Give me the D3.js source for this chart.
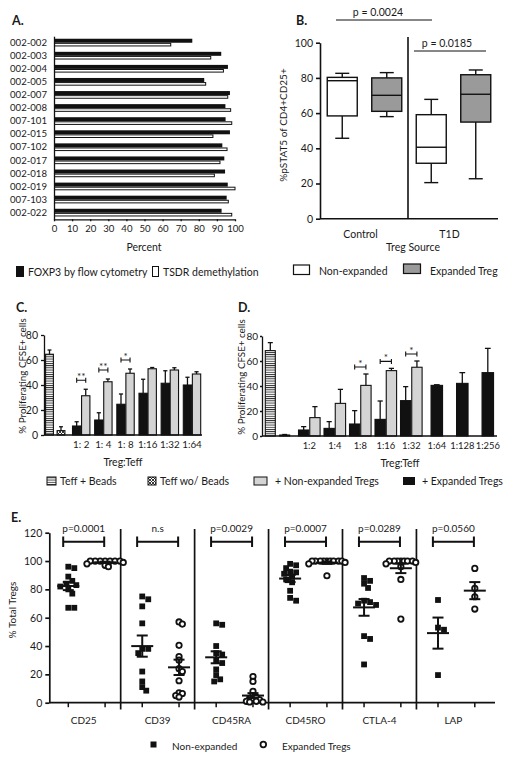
<!DOCTYPE html>
<html><head><meta charset="utf-8">
<script src="https://cdn.jsdelivr.net/npm/d3@7"></script>
<style>
body{margin:0;background:#fff}
svg{display:block}
text{font-family:Lato,"Open Sans",sans-serif;fill:#1a1a1a}
</style>
</head><body>
<svg id="chart" width="512" height="760"></svg>
<script>
// ---------- Panel A data ----------
const patients = ["002-002","002-003","002-004","002-005","002-007","002-008","007-101","002-015","007-102","002-017","002-018","002-019","007-103","002-022"];
const foxp3Flow = [76.4,92.4,96.1,83,97.2,94.7,94.8,97.2,93,94.1,94.5,96,95.4,92.6];
const tsdrDemeth = [64.5,86.6,93.6,83.8,96,97.6,98.2,87.8,95.6,91.7,88.6,100,96.3,98.2];
const percentTicks = [0,10,20,30,40,50,60,70,80,90,100];

// ---------- Panel B data ([min, q1, median, q3, max]) ----------
const bSources = ["Control","T1D"];
const bGroups = ["Non-expanded","Expanded Treg"];
const controlNonExp = [45.7,58.4,78.4,80.3,82.6];
const controlExp = [58,61,70.1,80,83];
const t1dNonExp = [20.5,31.5,40.6,59.1,67.8];
const t1dExp = [22.7,54.9,70.7,81.8,84.5];
const bTicks = [0,20,40,60,80,100];

// ---------- Panel C data ----------
const cControls = ["Teff + Beads","Teff wo/ Beads"];
const cControlMean = [64.6,3.5];
const cControlSem = [3.4,3.1];
const cRatios = ["1: 2","1: 4","1: 8","1:16","1:32","1:64"];
const cExpanded = [7.2,12,24.6,33.4,41.4,40];
const cExpandedSem = [3.4,5.8,8.2,11.2,10,6.2];
const cNonExp = [31.4,42.6,49.4,53,52,48.8];
const cNonExpSem = [5.2,2.2,3.4,1,1.8,1.8];
const cSig = ["**","**","*","","",""];

// ---------- Panel D data ----------
const dControlMean = [68.3,0.8];
const dControlSem = [6.4,0.4];
const dRatios = ["1:2","1:4","1:8","1:16","1:32","1:64","1:128","1:256"];
const dExpanded = [4.8,6.1,9.6,13.3,28.3,40.5,42.1,50.7];
const dExpandedSem = [2.7,5.4,10.7,14.7,11.2,0.5,8.6,19.4];
const dNonExp = [14.7,26.1,40.5,52.3,55,null,null,null];
const dNonExpSem = [8.8,11.2,9.1,1.8,5,null,null,null];
const dSig = ["","","*","*","*","","",""];
const cdTicks = [0,20,40,60,80];

// ---------- Panel E data ----------
const eMarkers = ["CD25","CD39","CD45RA","CD45RO","CTLA-4","LAP"];
const ePValues = ["p=0.0001","n.s","p=0.0029","p=0.0007","p=0.0289","p=0.0560"];
const eNonExpanded = [
  [96,95,89,86,84,83,82,80,77,67,67],
  [75,73,68,56,38,38,35,22,15,11,8.5],
  [56,55,40,35,34,30,28,23.5,19.5,16.5,15],
  [98,97,95,92.5,92,91,89,87,85,79,74,72],
  [88,86,84,81,72,71,70,69,47,45,27],
  [72.5,53,51.5,19.5]
];
const eExpanded = [
  [100,100,100,100,100,100,100,99,98,97,96],
  [57,55.5,40.5,32.5,30,24,22,15.5,7,6.5,5,4],
  [18.5,15,8,5,4,3,2,2,1,1,0.5,0.5],
  [100,100,100,100,100,100,100,100,100,99,98,89.6],
  [100,100,100,100,100,100,100,99,98,96,87,59],
  [94.8,80.7,74.8,66.1]
];
const eTicks = [0,20,40,60,80,100,120];

const svg = d3.select("#chart");
const FS = 10.5;

function label(g, x, y, t, opts={}) {
  const el = g.append("text").attr("x", x).attr("y", y).text(t)
    .attr("font-size", opts.size || FS)
    .attr("text-anchor", opts.anchor || "start")
    .attr("dominant-baseline", "central");
  if (opts.bold) el.attr("font-weight", "bold");
  if (opts.rotate) el.attr("transform", `rotate(-90,${x},${y})`);
  return el;
}
function styleAxis(g, sw, fs) {
  g.selectAll("path,line").attr("stroke", "#111").attr("stroke-width", sw);
  g.selectAll("text").attr("font-size", fs || FS).attr("fill", "#1a1a1a")
    .attr("font-family", "Lato, 'Open Sans', sans-serif");
}

// defs: patterns
const defs = svg.append("defs");
const pH = defs.append("pattern").attr("id","hstripe").attr("patternUnits","userSpaceOnUse").attr("width",4).attr("height",2.2);
pH.append("rect").attr("width",4).attr("height",2.2).attr("fill","#fff");
pH.append("rect").attr("width",4).attr("height",0.9).attr("fill","#222");
const pX = defs.append("pattern").attr("id","xhatch").attr("patternUnits","userSpaceOnUse").attr("width",3).attr("height",3);
pX.append("rect").attr("width",3).attr("height",3).attr("fill","#fff");
pX.append("path").attr("d","M0,0L3,3M3,0L0,3").attr("stroke","#222").attr("stroke-width",0.9);

// ================= PANEL A =================
{
  const g = svg.append("g");
  label(g, 12, 20, "A.", {bold:true, size:12.5});
  const x = d3.scaleLinear().domain([0,100]).range([54,235]);
  const y = d3.scaleBand().domain(patients).range([36.2,219.3]);
  const c = p => y(p) + y.bandwidth()/2;
  g.selectAll(".fb").data(patients).join("rect")
    .attr("x", x(0)).attr("y", p => c(p)-4)
    .attr("width", (p,i) => x(foxp3Flow[i]) - x(0)).attr("height", 4).attr("fill","#111");
  g.selectAll(".tb").data(patients).join("rect")
    .attr("x", x(0)+0.5).attr("y", p => c(p)+0.6)
    .attr("width", (p,i) => x(tsdrDemeth[i]) - x(0) - 0.5).attr("height", 2.6)
    .attr("fill","#fff").attr("stroke","#111").attr("stroke-width",1);
  const ya = g.append("g").attr("transform",`translate(${x(0)},0)`)
    .call(d3.axisLeft(y).tickSize(0).tickPadding(7));
  styleAxis(ya, 1.3, 9.6);
  const xa = g.append("g").attr("transform",`translate(0,219.3)`)
    .call(d3.axisBottom(x).tickValues(percentTicks).tickSize(2).tickPadding(4).tickSizeOuter(0));
  styleAxis(xa, 1.3, 9.6);
  label(g, 144, 247, "Percent", {anchor:"middle"});
  // legend
  g.append("rect").attr("x",16).attr("y",266).attr("width",8).attr("height",11).attr("fill","#111");
  label(g, 28, 272, "FOXP3 by flow cytometry");
  g.append("rect").attr("x",152.5).attr("y",266.5).attr("width",6).attr("height",10).attr("fill","#fff").attr("stroke","#111").attr("stroke-width",1);
  label(g, 163, 272, "TSDR demethylation");
}

// ================= PANEL B =================
{
  const g = svg.append("g");
  label(g, 296, 20, "B.", {bold:true, size:12.5});
  const y = d3.scaleLinear().domain([0,100]).range([218.7,42.7]);
  const x = d3.scaleBand().domain(bSources).range([320,498]);
  const xi = d3.scaleBand().domain(bGroups).range([0, x.bandwidth()]);
  const boxes = [
    {s:"Control", grp:"Non-expanded", v:controlNonExp},
    {s:"Control", grp:"Expanded Treg", v:controlExp},
    {s:"T1D", grp:"Non-expanded", v:t1dNonExp},
    {s:"T1D", grp:"Expanded Treg", v:t1dExp}
  ];
  const fill = {"Non-expanded":"#fff","Expanded Treg":"#9a9a9a"};
  const bw = 30;
  boxes.forEach(b => {
    const cx = x(b.s) + xi(b.grp) + xi.bandwidth()/2;
    const [mn,q1,md,q3,mx] = b.v;
    const bg = g.append("g").attr("stroke","#111").attr("stroke-width",1.4);
    bg.append("line").attr("x1",cx).attr("x2",cx).attr("y1",y(mx)).attr("y2",y(q3));
    bg.append("line").attr("x1",cx).attr("x2",cx).attr("y1",y(q1)).attr("y2",y(mn));
    bg.append("line").attr("x1",cx-7).attr("x2",cx+7).attr("y1",y(mx)).attr("y2",y(mx));
    bg.append("line").attr("x1",cx-7).attr("x2",cx+7).attr("y1",y(mn)).attr("y2",y(mn));
    bg.append("rect").attr("x",cx-bw/2).attr("y",y(q3)).attr("width",bw).attr("height",y(q1)-y(q3)).attr("fill",fill[b.grp]);
    bg.append("line").attr("x1",cx-bw/2).attr("x2",cx+bw/2).attr("y1",y(md)).attr("y2",y(md));
  });
  const ya = g.append("g").attr("transform","translate(320,0)")
    .call(d3.axisLeft(y).tickValues(bTicks).tickSize(4).tickPadding(3).tickSizeOuter(0));
  styleAxis(ya, 1.6);
  g.append("line").attr("x1",320).attr("x2",498).attr("y1",y(0)).attr("y2",y(0)).attr("stroke","#111").attr("stroke-width",1.6);
  g.append("line").attr("x1",x("T1D")-1).attr("x2",x("T1D")-1).attr("y1",37).attr("y2",y(0)).attr("stroke","#111").attr("stroke-width",1.6);
  bSources.forEach(s => label(g, x(s)+x.bandwidth()/2-4, 234, s, {anchor:"middle"}));
  label(g, 413, 247, "Treg Source", {anchor:"middle"});
  label(g, 283, 125, "%pSTAT5 of CD4+CD25+", {anchor:"middle", rotate:true, size:10});
  // p-values
  label(g, 378, 12, "p = 0.0024", {anchor:"middle"});
  g.append("line").attr("x1",336).attr("x2",432).attr("y1",20).attr("y2",20).attr("stroke","#111").attr("stroke-width",1.2);
  label(g, 447, 43, "p = 0.0185", {anchor:"middle"});
  g.append("line").attr("x1",414).attr("x2",486).attr("y1",51).attr("y2",51).attr("stroke","#111").attr("stroke-width",1.2);
  // legend
  g.append("rect").attr("x",293.5).attr("y",265).attr("width",16).attr("height",9.5).attr("fill","#fff").attr("stroke","#111").attr("stroke-width",1.2);
  label(g, 319, 270.5, "Non-expanded");
  g.append("rect").attr("x",403.5).attr("y",264).attr("width",17).attr("height",9.5).attr("fill","#9a9a9a").attr("stroke","#111").attr("stroke-width",1.2);
  label(g, 430, 270.5, "Expanded Treg");
}

// ---------- bar chart helper for C & D ----------
function barPanel(o) {
  const g = svg.append("g");
  const y = d3.scaleLinear().domain([0,80]).range([o.y0, o.y0-100]);
  const xc = d3.scalePoint().domain(cControls).range(o.ctrlRange);
  const xr = d3.scalePoint().domain(o.ratios).range(o.ratioRange);
  const xi = d3.scaleBand().domain(["exp","non"]).range([-o.half, o.half]).paddingInner(0.08);
  const bars = [];
  cControls.forEach((k,i) => bars.push({x: xc(k)-o.cw/2, w:o.cw, v:o.ctrlMean[i], e:o.ctrlSem[i], fill: i===0?"url(#hstripe)":"url(#xhatch)"}));
  o.ratios.forEach((r,i) => {
    const single = o.nonExp[i] == null;
    if (single) {
      bars.push({x: xr(r)-o.sw/2, w:o.sw, v:o.exp[i], e:o.expSem[i], fill:"#111"});
    } else {
      bars.push({x: xr(r)+xi("exp"), w:xi.bandwidth(), v:o.exp[i], e:o.expSem[i], fill:"#111"});
      bars.push({x: xr(r)+xi("non"), w:xi.bandwidth(), v:o.nonExp[i], e:o.nonSem[i], fill:"#d4d4d4"});
    }
  });
  bars.forEach(b => {
    const cx = b.x + b.w/2;
    g.append("line").attr("x1",cx).attr("x2",cx).attr("y1",y(b.v)).attr("y2",y(b.v+b.e)).attr("stroke","#111").attr("stroke-width",1.3);
    g.append("line").attr("x1",cx-b.w/4).attr("x2",cx+b.w/4).attr("y1",y(b.v+b.e)).attr("y2",y(b.v+b.e)).attr("stroke","#111").attr("stroke-width",1.3);
    g.append("rect").attr("x",b.x).attr("y",y(b.v)).attr("width",b.w).attr("height",y(0)-y(b.v))
      .attr("fill",b.fill).attr("stroke","#111").attr("stroke-width",1.1);
  });
  // significance brackets
  o.ratios.forEach((r,i) => {
    if (!o.sig[i]) return;
    const top = Math.max(o.exp[i]+o.expSem[i], o.nonExp[i]+o.nonSem[i]);
    const yy = y(top) - o.sigGap;
    const x1 = xr(r)+xi("exp")+xi.bandwidth()/2, x2 = xr(r)+xi("non")+xi.bandwidth()/2;
    g.append("path").attr("d",`M${x1},${yy-2.5}V${yy+2.5}M${x1},${yy}H${x2}M${x2},${yy-2.5}V${yy+2.5}`)
      .attr("stroke","#111").attr("stroke-width",1.1).attr("fill","none");
    label(g, (x1+x2)/2, yy-4, o.sig[i], {anchor:"middle", size:10});
  });
  const ya = g.append("g").attr("transform",`translate(${o.ax},0)`)
    .call(d3.axisLeft(y).tickValues(cdTicks).tickSize(o.tk).tickPadding(o.tp).tickSizeOuter(0));
  styleAxis(ya, 1.3, o.ytickSize);
  g.append("line").attr("x1",o.ax).attr("x2",o.axEnd).attr("y1",y(0)).attr("y2",y(0)).attr("stroke","#111").attr("stroke-width",1.3);
  o.ratios.forEach(r => label(g, xr(r), o.y0+9, r, {anchor:"middle", size:o.tickSize}));
  label(g, o.xTitle, o.y0+27, "Treg:Teff", {anchor:"middle"});
  label(g, o.ylabX, o.y0-59, "% Proliferating CFSE+ cells", {anchor:"middle", rotate:true, size:9.8});
  label(g, o.letterX, 307, o.letter, {bold:true, size:12.5});
}

// ================= PANEL C =================
barPanel({letter:"C.", letterX:16, ylabX:21.5, y0:435, ax:44, axEnd:202, tk:3, tp:3, ytickSize:10.5,
  ratios:cRatios, ctrlRange:[49.5,61], ratioRange:[81.2,192],
  half:8.7, cw:7.8, sw:8, ctrlMean:cControlMean, ctrlSem:cControlSem,
  exp:cExpanded, expSem:cExpandedSem, nonExp:cNonExp, nonSem:cNonExpSem, sig:cSig, sigGap:9, tickSize:9.8, xTitle:123});

// ================= PANEL D =================
barPanel({letter:"D.", letterX:238, ylabX:240.5, y0:436, ax:262, axEnd:497, tk:2, tp:2, ytickSize:10,
  ratios:dRatios, ctrlRange:[270.3,284.7], ratioRange:[309.3,487.8],
  half:10.8, cw:10, sw:11.5, ctrlMean:dControlMean, ctrlSem:dControlSem,
  exp:dExpanded, expSem:dExpandedSem, nonExp:dNonExp, nonSem:dNonExpSem, sig:dSig, sigGap:7, tickSize:9.4, xTitle:400});

// C / D legend
{
  const g = svg.append("g");
  const ly = 481;
  g.append("rect").attr("x",47).attr("y",ly-4).attr("width",9).attr("height",8).attr("fill","url(#hstripe)").attr("stroke","#111");
  label(g, 60, ly, "Teff + Beads");
  g.append("rect").attr("x",148).attr("y",ly-4).attr("width",8).attr("height",8).attr("fill","url(#xhatch)").attr("stroke","#111");
  label(g, 160, ly, "Teff  wo/ Beads");
  g.append("rect").attr("x",254).attr("y",ly-4).attr("width",13).attr("height",8).attr("fill","#d4d4d4").attr("stroke","#111");
  label(g, 275, ly, "+ Non-expanded Tregs");
  g.append("rect").attr("x",403).attr("y",ly-4).attr("width",12).attr("height",8).attr("fill","#111");
  label(g, 422, ly, "+ Expanded Tregs");
}

// ================= PANEL E =================
{
  const g = svg.append("g");
  label(g, 11, 517, "E.", {bold:true, size:12.5});
  const y = d3.scaleLinear().domain([0,120]).range([702.7,532.7]);
  const x = d3.scalePoint().domain(eMarkers).range([86.7,456.4]);
  const off = 18.4;

  function swarm(values, cx, d, step) {
    const placed = [], res = new Array(values.length);
    const order = values.map((v,i)=>i).sort((a,b)=>values[b]-values[a]);
    for (const i of order) {
      const py = y(values[i]);
      let k = 0, px;
      while (true) {
        const o = k===0 ? 0 : (k%2 ? 1 : -1) * Math.ceil(k/2) * step;
        px = cx + o;
        if (placed.every(p => Math.hypot(p[0]-px, p[1]-py) >= d)) break;
        k++;
      }
      placed.push([px,py]); res[i] = [px,py];
    }
    return res;
  }

  // axes
  const ya = g.append("g").attr("transform","translate(49.3,0)")
    .call(d3.axisLeft(y).tickValues(eTicks).tickSize(4).tickPadding(3).tickSizeOuter(0));
  styleAxis(ya, 1.7);
  g.append("line").attr("x1",49.3).attr("x2",495).attr("y1",y(0)).attr("y2",y(0)).attr("stroke","#111").attr("stroke-width",1.7);
  eMarkers.forEach((m,i) => {
    [-off, off].forEach(o => g.append("line").attr("x1",x(m)+o).attr("x2",x(m)+o).attr("y1",y(0)).attr("y2",y(0)+4.5).attr("stroke","#111").attr("stroke-width",1.5));
    if (i < eMarkers.length-1) {
      const dx = (x(m)+x(eMarkers[i+1]))/2 - 3;
      g.append("line").attr("x1",dx).attr("x2",dx).attr("y1",529).attr("y2",709.5).attr("stroke","#111").attr("stroke-width",1.7);
    }
    label(g, x(m)-3, 720, m, {anchor:"middle", size:10});
    // bracket + p-value
    const bc = x(m)-3;
    g.append("path").attr("d",`M${bc-20.5},${536.5}V${547}M${bc-20.5},${541.7}H${bc+20.5}M${bc+20.5},${536.5}V${547}`)
      .attr("stroke","#111").attr("stroke-width",2).attr("fill","none");
    label(g, bc, 527.5, ePValues[i], {anchor:"middle", size:10});
  });

  function drawGroup(vals, cx, kind) {
    const pts = kind === "sq" ? swarm(vals, cx, 5.2, 2) : swarm(vals, cx, 3.3, 1.65);
    pts.forEach(p => {
      if (kind === "sq") g.append("rect").attr("x",p[0]-2.9).attr("y",p[1]-2.9).attr("width",5.8).attr("height",5.8).attr("fill","#111");
      else g.append("circle").attr("cx",p[0]).attr("cy",p[1]).attr("r",2.7).attr("fill","#fff").attr("stroke","#111").attr("stroke-width",1.8);
    });
    const m = d3.mean(vals), sem = d3.deviation(vals)/Math.sqrt(vals.length);
    const s = g.append("g").attr("stroke","#111").attr("stroke-width",2);
    s.append("line").attr("x1",cx-11).attr("x2",cx+11).attr("y1",y(m)).attr("y2",y(m));
    s.append("line").attr("x1",cx).attr("x2",cx).attr("y1",y(m-sem)).attr("y2",y(m+sem));
    s.append("line").attr("x1",cx-5.5).attr("x2",cx+5.5).attr("y1",y(m-sem)).attr("y2",y(m-sem));
    s.append("line").attr("x1",cx-5.5).attr("x2",cx+5.5).attr("y1",y(m+sem)).attr("y2",y(m+sem));
  }
  eMarkers.forEach((m,i) => {
    drawGroup(eNonExpanded[i], x(m)-off, "sq");
    drawGroup(eExpanded[i], x(m)+off, "ci");
  });

  label(g, 12, 610, "% Total Tregs", {anchor:"middle", rotate:true, size:10});
  // legend
  g.append("rect").attr("x",150.5).attr("y",741.5).attr("width",6).attr("height",6).attr("fill","#111");
  label(g, 172, 746, "Non-expanded", {size:10});
  g.append("circle").attr("cx",263.3).attr("cy",744.5).attr("r",2.8).attr("fill","#fff").attr("stroke","#111").attr("stroke-width",1.8);
  label(g, 282, 746, "Expanded Tregs", {size:10});
}
</script>
</body></html>
